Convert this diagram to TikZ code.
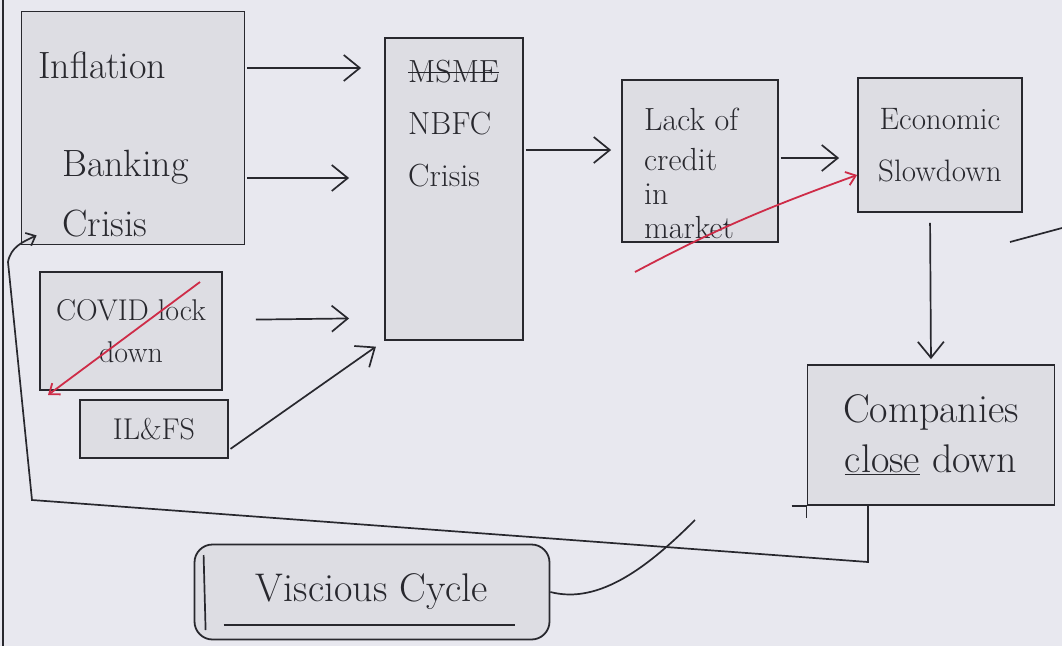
\documentclass[tikz,border=0pt]{standalone}
\usepackage{fontspec}
\usetikzlibrary{arrows.meta,positioning,calc}
\definecolor{paper}{RGB}{232,232,239}
\definecolor{boxfill}{RGB}{221,221,227}
\definecolor{ink}{RGB}{40,40,46}
\definecolor{redink}{RGB}{206,44,72}
\newcommand{\struckword}[1]{\setbox0\hbox{#1}\rlap{\rule[0.3em]{\wd0}{1.5pt}}\box0}

\begin{document}
\begin{tikzpicture}[
  x=1pt, y=-1pt,
  hand/.style={text=ink, font=\fontsize{30}{42}\selectfont, inner sep=0pt},
  sketchbox/.style={draw=ink, line width=1.8pt, fill=boxfill, align=center},
  arrow/.style={draw=ink, line width=1.7pt, -{Straight Barb[length=16pt,width=26pt,line width=1.7pt]}},
  smallarrow/.style={draw=ink, line width=1.7pt, -{Straight Barb[length=8pt,width=14pt,line width=1.7pt]}},
  redarrow/.style={draw=redink, line width=1.8pt, -{Straight Barb[length=9pt,width=14pt,line width=1.8pt]}},
  inkline/.style={draw=ink, line width=1.7pt}
]
  \useasboundingbox (0,0) rectangle (1062,646);
  \fill[paper] (0,0) rectangle (1062,646);
  \draw[inkline, line width=2.5pt] (3,0) -- (3,646);

  \node[sketchbox, minimum width=223pt, minimum height=233pt] (infl) at (133,128) {};
  \node[hand, font=\fontsize{38}{60}\selectfont, align=left, anchor=west] (infl text) at (38,144) {Inflation\\[38pt]\hspace*{24pt}Banking\\\hspace*{24pt}Crisis};

  \node[sketchbox, minimum width=138pt, minimum height=302pt] (nbfc) at (454,189) {};
  \node[hand, font=\fontsize{32}{52}\selectfont, align=left, anchor=west] (nbfc text) at (408,124) {\struckword{MSME}\\NBFC\\Crisis};

  \node[sketchbox, minimum width=156pt, minimum height=162pt] (lack) at (700,161) {};
  \node[hand, font=\fontsize{32}{34}\selectfont, align=left, anchor=west] (lack text) at (644,173) {Lack of\\[6pt]credit\\in\\market};

  \node[sketchbox, hand, font=\fontsize{31}{52}\selectfont, minimum width=164pt, minimum height=134pt] (econ) at (940,145) {Economic\\Slowdown};
  \node[sketchbox, hand, font=\fontsize{40}{50}\selectfont, minimum width=247pt, minimum height=140pt] (comp) at (931,435) {Companies\\\underline{close} down};

  \node[sketchbox, hand, minimum width=182pt, minimum height=118pt] (covid) at (131,331) {COVID lock\\down};
  \node[sketchbox, hand, minimum width=148pt, minimum height=58pt] (ilfs) at (154,429) {IL\&FS};

  \node[sketchbox, hand, font=\fontsize{40}{48}\selectfont, rounded corners=18pt, minimum width=355pt, minimum height=95pt] (vc) at (372,592) {Viscious Cycle};
  \draw[inkline] ([shift={(30,33)}]vc.west) -- ([shift={(-35,33)}]vc.east);
  \draw[inkline] ([shift={(10,-37)}]vc.west) -- ([shift={(12,38)}]vc.west);

  \draw[arrow, shorten <=2pt, shorten >=23pt] ([yshift=60pt]infl.east) -- ([yshift=121pt]nbfc.west);
  \draw[arrow, shorten <=2pt, shorten >=35pt] ([yshift=-50pt]infl.east) -- ([yshift=11pt]nbfc.west);
  \draw[arrow, shorten <=33pt, shorten >=35pt] ([yshift=11pt]covid.east) -- ([yshift=-129pt]nbfc.west);
  \draw[arrow, shorten <=2pt, shorten >=10pt] ([yshift=-21pt]ilfs.east) -- (nbfc.south west);
  \draw[arrow, shorten <=2pt, shorten >=10pt] ([yshift=39pt]nbfc.east) -- ([yshift=11pt]lack.west);
  \draw[arrow, shorten <=2pt, shorten >=18pt] ([yshift=3pt]lack.east) -- ([yshift=-13pt]econ.west);
  \draw[arrow, shorten <=10pt, shorten >=5pt] ([xshift=-10pt]econ.south) -- (comp.north);

  \coordinate (redA) at (635,272);
  \draw[redarrow] (redA) to[out=28,in=200] ([yshift=-30pt]econ.west);
  \coordinate (covidA) at (200,282);
  \coordinate (covidB) at (48,395);
  \draw[redarrow] (covidA) -- (covidB);

  \coordinate (cycA) at (868,562);
  \coordinate (cycB) at (32,500);
  \coordinate (cycC) at (8,262);
  \draw[smallarrow] ([xshift=-63pt]comp.south) -- (cycA) -- (cycB) -- (cycC) to[out=80,in=205] ([shift={(16,-10)}]infl.south west);
  \draw[inkline] ([xshift=-15pt]comp.south west) -- (comp.south west) -- ++(0,12);

  \coordinate (vcTail) at (695,520);
  \draw[inkline] (vc.east) .. controls (600,605) and (650,565) .. (vcTail);
  \coordinate (strayA) at (1062,228);
  \coordinate (strayB) at (1010,242);
  \draw[inkline] (strayA) -- (strayB);
\end{tikzpicture}
\end{document}
